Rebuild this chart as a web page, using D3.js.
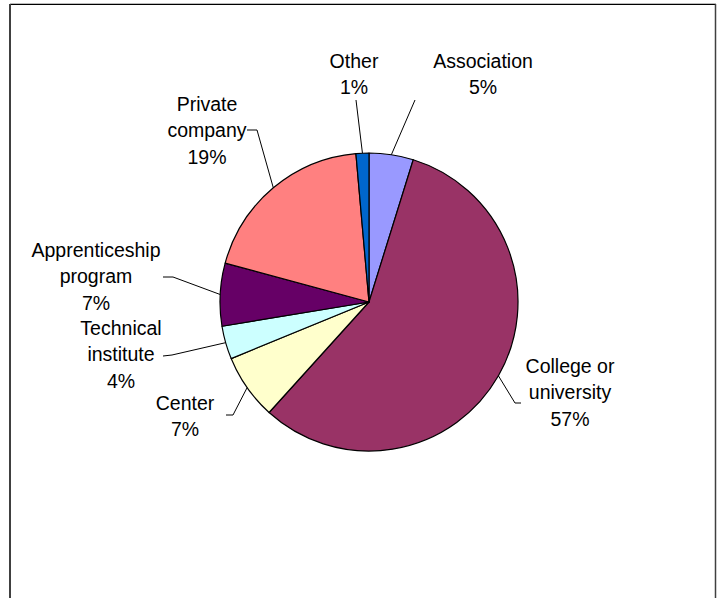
<!DOCTYPE html>
<html>
<head>
<meta charset="utf-8">
<script src="https://cdn.jsdelivr.net/npm/d3@7"></script>
<style>
  html, body { margin: 0; padding: 0; background: #fff; }
  svg { display: block; }
  text { font-family: "Liberation Sans", Arial, sans-serif; font-size: 19.5px; fill: #000; }
</style>
</head>
<body>
<svg id="chart" width="717" height="598"></svg>
<script>
// Where training was received (share of respondents, %)
const categories = ["Association", "College or university", "Center", "Technical institute",
                    "Apprenticeship program", "Private company", "Other"];
const shares = [4.8, 56.9, 7.1, 3.6, 6.8, 19.4, 1.4];
const labelLines = [
  ["Association"],
  ["College or", "university"],
  ["Center"],
  ["Technical", "institute"],
  ["Apprenticeship", "program"],
  ["Private", "company"],
  ["Other"]
];
const colors = ["#9999FF", "#993366", "#FFFFCC", "#CCFFFF", "#660066", "#FF8080", "#0066CC"];

// Label block centres and leader-line starts, relative to the pie centre
const labelLayout = [
  { dx: 114,  dy: -228, lead: [[46, -202]] },
  { dx: 201,  dy: 90,   lead: [[152, 101], [146, 101]] },
  { dx: -184, dy: 114,  lead: [[-143, 113], [-136, 113]] },
  { dx: -248, dy: 52,   lead: [[-206, 54], [-197, 53]] },
  { dx: -273, dy: -26,  lead: [[-206, -25], [-196, -25]] },
  { dx: -162, dy: -172, lead: [[-122, -172], [-112, -172]] },
  { dx: -15,  dy: -228, lead: [[-13, -202]] }
];

const svg = d3.select("#chart");
const cx = 369, cy = 302, radius = 149;
const lineH = 26.5;

// Chart frame (open at the bottom)
svg.append("line").attr("x1", 10).attr("x2", 716).attr("y1", 3.5).attr("y2", 3.5)
  .attr("stroke", "#bbb").attr("stroke-width", 1);
svg.append("line").attr("x1", 10).attr("x2", 716).attr("y1", 4.5).attr("y2", 4.5)
  .attr("stroke", "#000").attr("stroke-width", 1);
svg.append("line").attr("x1", 10).attr("x2", 10).attr("y1", 4).attr("y2", 598)
  .attr("stroke", "#404040").attr("stroke-width", 2);
svg.append("line").attr("x1", 715.5).attr("x2", 715.5).attr("y1", 4).attr("y2", 598)
  .attr("stroke", "#404040").attr("stroke-width", 1.5);

const pie = d3.pie().sort(null).value(d => d)(shares);
const arc = d3.arc().innerRadius(0).outerRadius(radius);

const g = svg.append("g").attr("transform", `translate(${cx},${cy})`);

g.selectAll("path.slice")
  .data(pie)
  .join("path")
  .attr("class", "slice")
  .attr("d", arc)
  .attr("fill", (d, i) => colors[i])
  .attr("stroke", "#000")
  .attr("stroke-width", 1.2)
  .attr("stroke-linejoin", "round");

// Leader lines from each label to the middle of its slice's rim
g.selectAll("polyline.leader")
  .data(pie)
  .join("polyline")
  .attr("class", "leader")
  .attr("fill", "none")
  .attr("stroke", "#000")
  .attr("stroke-width", 1)
  .attr("points", (d, i) => {
    const mid = (d.startAngle + d.endAngle) / 2;
    const end = [radius * Math.sin(mid), -radius * Math.cos(mid)];
    return labelLayout[i].lead.concat([end]).map(p => p.join(",")).join(" ");
  });

// Category names with percentages
const fmt = v => Math.round(v) + "%";
pie.forEach((d, i) => {
  const lines = labelLines[i].concat([fmt(shares[i])]);
  const L = labelLayout[i];
  const top = L.dy - (lines.length - 1) * lineH / 2;
  const t = g.append("text")
    .attr("text-anchor", "middle")
    .attr("dominant-baseline", "central");
  lines.forEach((s, k) => {
    t.append("tspan").attr("x", L.dx).attr("y", top + k * lineH).text(s);
  });
});
</script>
</body>
</html>
